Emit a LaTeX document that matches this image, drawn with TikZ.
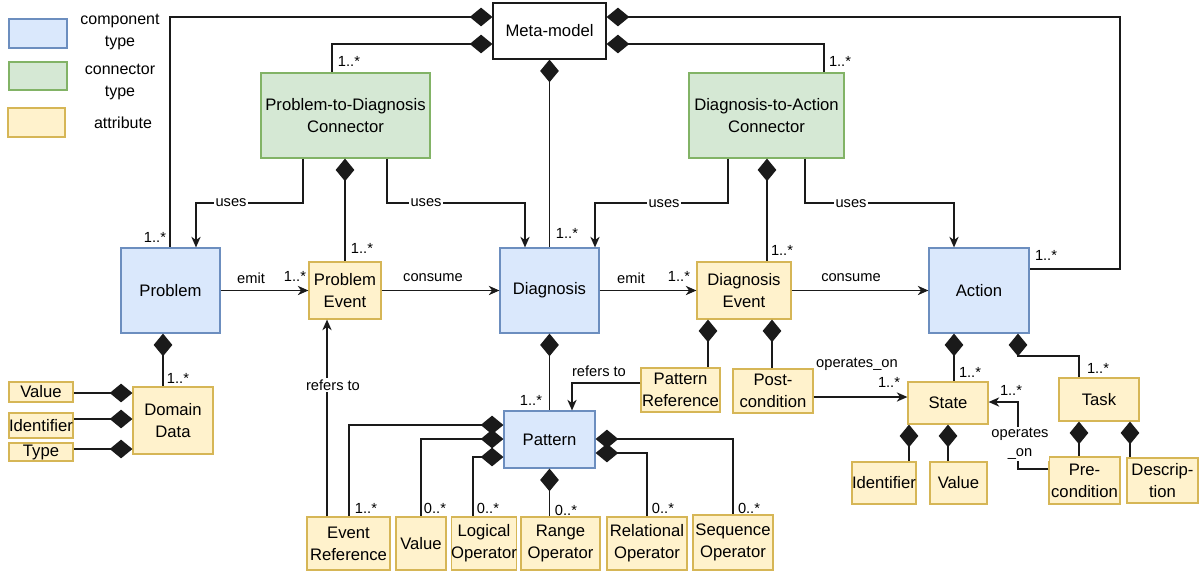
\documentclass[tikz,border=0pt]{standalone}
\usepackage{fontspec}
\setmainfont{Liberation Sans}
\usetikzlibrary{arrows.meta}
\definecolor{bfill}{HTML}{DAE8FC}\definecolor{bdraw}{HTML}{6C8EBF}
\definecolor{gfill}{HTML}{D5E8D4}\definecolor{gdraw}{HTML}{82B366}
\definecolor{yfill}{HTML}{FFF2CC}\definecolor{ydraw}{HTML}{D6B656}
\definecolor{ln}{HTML}{1A1A1A}
\begin{document}
\begin{tikzpicture}[x=0.75pt,y=-0.75pt,
 box/.style={draw, line width=0.9pt, inner sep=0pt, align=center, font=\fontsize{12.5}{16.5}\selectfont},
 sz/.style 2 args={minimum width=#1*0.75pt, minimum height=#2*0.75pt},
 comp/.style={box, fill=bfill, draw=bdraw},
 conn/.style={box, fill=gfill, draw=gdraw},
 attr/.style={box, fill=yfill, draw=ydraw},
 metabox/.style={box, fill=white, draw=ln},
 dstart/.style={line width=0.9pt, draw=ln, {Diamond[length=17pt,width=14pt]}-},
 arr/.style={line width=0.9pt, draw=ln, -{Stealth[length=8pt,width=7pt,inset=2.5pt]}},
 lbl/.style={font=\fontsize{11}{13}\selectfont, inner sep=1pt},
 wlbl/.style={lbl, fill=white, align=center},
 leg/.style={font=\fontsize{12}{16.5}\selectfont, align=center, inner sep=0pt},
]
\useasboundingbox (0,0) rectangle (1200,572);

% legend
\node[comp, sz={58}{29}] (lb) at (38,33.5) {};
\node[conn, sz={58}{28}] (lg) at (38,76) {};
\node[attr, sz={57}{29}] (ly) at (36.5,122.5) {};
\node[leg] (lbt) at (120,32) {component\\type};
\node[leg] (lgt) at (120,82) {connector\\type};
\node[leg] (lyt) at (123,123) {attribute};

% main nodes
\node[metabox, sz={113}{56}] (meta) at (549.5,31) {Meta-model};
\node[conn, sz={169}{85}] (p2d) at (345.5,115.5) {Problem-to-Diagnosis\\Connector};
\node[conn, sz={155}{85}] (d2a) at (766.5,115.5) {Diagnosis-to-Action\\Connector};
\node[comp, sz={99}{85}] (problem) at (170.5,290.5) {Problem};
\node[comp, sz={99}{85}] (diagnosis) at (549.5,290.5) {Diagnosis};
\node[comp, sz={100}{85}] (action) at (979,290.5) {Action};
\node[attr, sz={72}{57}] (pevent) at (345,290.5) {Problem\\Event};
\node[attr, sz={94}{57}] (devent) at (744,290.5) {Diagnosis\\Event};
\node[attr, sz={80}{67}] (domain) at (173,420.5) {Domain\\Data};
\node[attr, sz={64}{20}] (val1) at (41,392) {Value};
\node[attr, sz={64}{25}] (ident1) at (41,425.5) {Identifier};
\node[attr, sz={64}{18}] (type1) at (41,452) {Type};
\node[comp, sz={91}{57}] (pattern) at (549.5,439.5) {Pattern};
\node[attr, sz={79}{44}] (patref) at (680.5,390) {Pattern\\Reference};
\node[attr, sz={80}{44}] (post) at (773,391) {Post-\\condition};
\node[attr, sz={80}{42}] (state) at (948,403) {State};
\node[attr, sz={80}{43}] (task) at (1099,399.5) {Task};
\node[attr, sz={64}{42}] (ident2) at (884,483) {Identifier};
\node[attr, sz={57}{42}] (val2) at (958.5,483) {Value};
\node[attr, sz={71}{47}] (pre) at (1084.5,480.5) {Pre-\\condition};
\node[attr, sz={71}{45}] (desc) at (1162.5,480.5) {Descrip-\\tion};
\node[attr, sz={83}{53}] (evref) at (348.5,543.5) {Event\\Reference};
\node[attr, sz={50}{53}] (val3) at (421,543.5) {Value};
\node[attr, sz={64}{53}] (logop) at (484,543.5) {Logical\\Operator};
\node[attr, sz={79}{53}] (rangeop) at (560.5,543.5) {Range\\Operator};
\node[attr, sz={80}{53}] (relop) at (647,543.5) {Relational\\Operator};
\node[attr, sz={80}{55}] (seqop) at (733,542.5) {Sequence\\Operator};

% meta-model compositions
\draw[dstart] (meta.west|-0,17) -| (problem.north-|170,0);
\node[lbl] (m1) at (155,237) {1..*};
\draw[dstart] (meta.west|-0,44) -| (p2d.north-|332,0);
\node[lbl] (m2) at (349,61) {1..*};
\draw[dstart] (meta.south) -- (diagnosis.north);
\node[lbl] (m3) at (567,233) {1..*};
\draw[dstart] (meta.east|-0,44) -| (d2a.north-|824,0);
\node[lbl] (m4) at (840,61) {1..*};
\coordinate (rc) at (1120,269);
\draw[dstart] (meta.east|-0,17) -| (rc) -- (action.east|-0,269);
\node[lbl] (m5) at (1046,255) {1..*};

% problem-to-diagnosis connector
\draw[dstart] (p2d.south-|345,0) -- (pevent.north);
\node[lbl] (c1) at (362,248) {1..*};
\draw[arr] (p2d.south-|303,0) |- (196,203) -- (problem.north-|196,0);
\node[wlbl] (u1) at (231,203) {uses};
\draw[arr] (p2d.south-|387,0) |- (525,203) -- (diagnosis.north-|525,0);
\node[wlbl] (u2) at (426,203) {uses};

% diagnosis-to-action connector
\draw[arr] (d2a.south-|728,0) |- (595,203) -- (diagnosis.north-|595,0);
\node[wlbl] (u3) at (664,204) {uses};
\draw[dstart] (d2a.south-|767,0) -- (devent.north-|767,0);
\node[lbl] (c2) at (782,250) {1..*};
\draw[arr] (d2a.south-|805,0) |- (954,203) -- (action.north-|954,0);
\node[wlbl] (u4) at (851,204) {uses};

% flow
\draw[arr] (problem.east) -- (pevent.west);
\node[lbl] (e1) at (251,278) {emit};
\node[lbl] (e1m) at (295,276) {1..*};
\draw[arr] (pevent.east) -- (diagnosis.west);
\node[lbl] (k1) at (433,278) {consume};
\draw[arr] (diagnosis.east) -- (devent.west);
\node[lbl] (e2) at (631,278) {emit};
\node[lbl] (e2m) at (679,276) {1..*};
\draw[arr] (devent.east) -- (action.west);
\node[lbl] (k2) at (851,278) {consume};

% domain data
\draw[dstart] (problem.south-|163,0) -- (domain.north-|163,0);
\node[lbl] (d1) at (178,378) {1..*};
\draw[dstart] (domain.west|-0,393) -- (val1.east|-0,393);
\draw[dstart] (domain.west|-0,419) -- (ident1.east|-0,419);
\draw[dstart] (domain.west|-0,449) -- (type1.east|-0,449);

% event reference
\draw[arr] (evref.north-|327,0) -- (pevent.south-|327,0);
\node[wlbl] (r1) at (333,385) {refers to};

% diagnosis -> pattern
\draw[dstart] (diagnosis.south) -- (pattern.north);
\node[lbl] (p1) at (531,400) {1..*};
\draw[dstart] (devent.south-|708,0) -- (patref.north-|708,0);
\draw[dstart] (devent.south-|772,0) -- (post.north-|772,0);
\draw[arr] (patref.west|-0,383) -| (pattern.north-|572,0);
\node[lbl] (r2) at (599,371) {refers to};

% post-condition -> state
\draw[arr] (post.east|-0,397) -- (state.west|-0,397);
\node[lbl] (o1) at (857,364) {operates\_on};
\node[lbl] (o1m) at (889,382) {1..*};

% action -> state / task
\draw[dstart] (action.south-|954,0) -- (state.north-|954,0);
\node[lbl] (a1) at (970,372) {1..*};
\coordinate (tk) at (1018,356);
\draw[dstart] (action.south-|1018,0) -- (tk) -| (task.north-|1079,0);
\node[lbl] (a2) at (1098,368) {1..*};

% state attributes
\draw[dstart] (state.south-|909,0) -- (ident2.north-|909,0);
\draw[dstart] (state.south-|948,0) -- (val2.north-|948,0);
% task attributes
\draw[dstart] (task.south-|1079,0) -- (pre.north-|1079,0);
\draw[dstart] (task.south-|1130,0) -- (desc.north-|1130,0);
\coordinate (pc) at (1018,402);
\draw[arr] (pre.west|-0,469) -| (pc) -- (state.east|-0,402);
\node[wlbl, inner sep=0.5pt, font=\fontsize{11}{14.5}\selectfont] (o2) at (1020,444) {operates\\\_on};
\node[lbl] (o2m) at (1011,390) {1..*};

% pattern attributes
\draw[dstart] (pattern.west|-0,425) -| (evref.north-|349,0);
\node[lbl] (q1) at (366,508) {1..*};
\draw[dstart] (pattern.west|-0,439) -| (val3.north-|421,0);
\node[lbl] (q2) at (435,508) {0..*};
\draw[dstart] (pattern.west|-0,457) -| (logop.north-|473,0);
\node[lbl] (q3) at (488,508) {0..*};
\draw[dstart] (pattern.south) -- (rangeop.north-|549.5,0);
\node[lbl] (q4) at (566,510) {0..*};
\draw[dstart] (pattern.east|-0,453) -| (relop.north-|647,0);
\node[lbl] (q5) at (663,508) {0..*};
\draw[dstart] (pattern.east|-0,439) -| (seqop.north-|733,0);
\node[lbl] (q6) at (749,508) {0..*};
\end{tikzpicture}
\end{document}
